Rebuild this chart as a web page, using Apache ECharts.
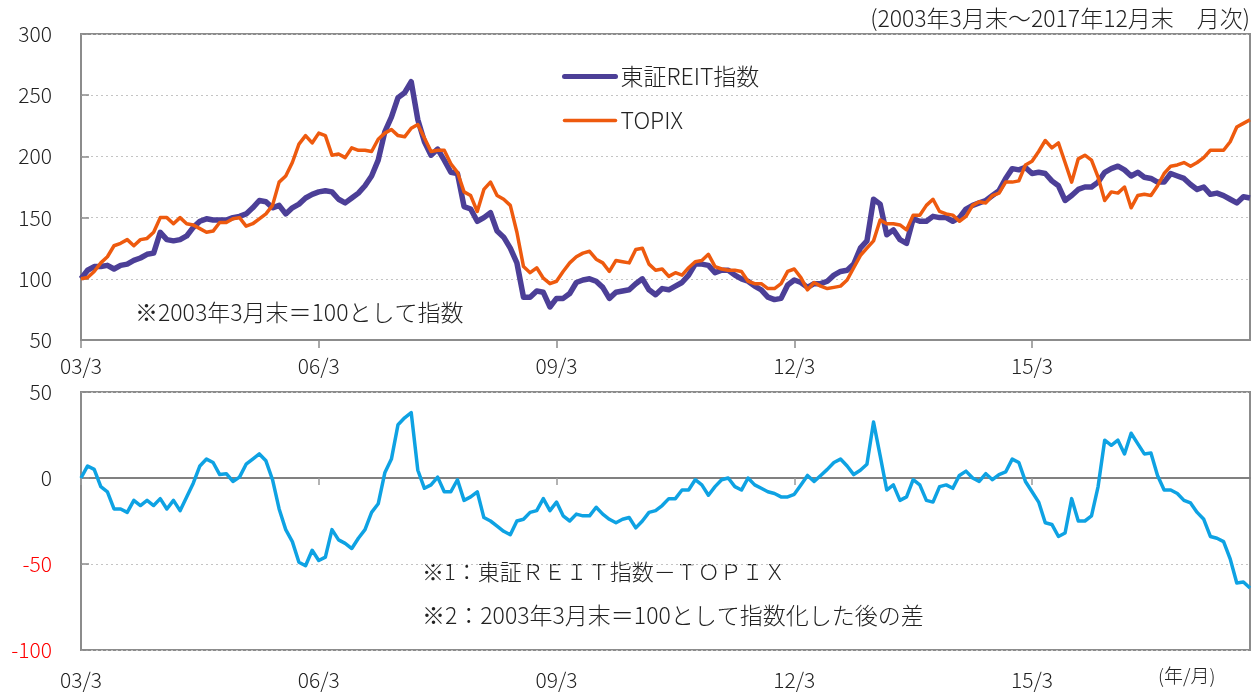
<!DOCTYPE html>
<html>
<head>
<meta charset="utf-8">
<script src="https://cdn.jsdelivr.net/npm/echarts@6/dist/echarts.min.js"></script>
<style>
html,body{margin:0;padding:0;background:#fff;}
#chart{width:1256px;height:693px;}
</style>
</head>
<body>
<div id="chart"></div>
<script>
// Month categories 2003/3 .. 2017/12 (labels "YY/M")
var categories = [];
for (var y = 2003; y <= 2017; y++) {
  for (var m = (y === 2003 ? 3 : 1); m <= 12; m++) {
    categories.push(String(y).slice(2) + '/' + m);
  }
}
var tickLabels = ['03/3', '06/3', '09/3', '12/3', '15/3'];
var topTicks = [50, 100, 150, 200, 250, 300];
var bottomTicks = [-100, -50, 0, 50];

var reitValues = [
  100,107,110,110,111,108,111,112,115,117,
  120,121,138,132,131,132,135,142,147,149,
  148,148,148,150,151,153,158,164,163,158,
  160,153,158,161,166,169,171,172,171,165,
  162,166,170,176,184,197,220,232,248,252,
  261,230,212,201,206,197,187,186,159,157,
  147,150,154,139,134,125,113,85,85,90,
  89,77,84,84,88,97,99,100,98,93,
  84,89,90,91,96,100,91,87,92,91,
  94,97,103,112,112,111,105,107,107,103,
  100,98,94,91,85,83,84,95,99,97,
  93,96,96,98,103,106,107,112,125,131,
  165,161,136,140,132,129,149,147,147,151,
  150,150,147,150,157,160,162,164,168,172,
  182,190,189,191,186,187,186,180,176,164,
  168,173,175,175,179,187,190,192,189,184,
  187,183,182,179,179,186,184,182,177,173,
  175,169,170,168,165,162,167,166
];

var topixValues = [
  100,101,106,113,118,127,129,132,127,132,
  133,138,150,150,145,150,145,144,141,138,
  139,146,146,149,150,143,145,149,153,160,
  179,184,195,210,217,211,219,217,201,202,
  199,207,205,205,204,214,219,222,217,216,
  223,226,215,204,205,205,194,187,171,168,
  155,173,179,168,165,160,138,110,105,109,
  100.5,96,98,106,113,118,121,122.5,116,113,
  106,115,114,113,124,125,112,107,108,102,
  105,103,109,114,115,120,110,108,107,107,
  106,98,96,96,92,92,96,106,108,101,
  91,97,94,92,93,94,99,109,119,125,
  131,148,145,145,144,140,152,152,160,165,
  155,153,152,147,151,160,163,162,168,170,
  179,179,180,193,196,204,213,207,211,195,
  179,198,201,197,183,164,171,170,175,158,
  168,169,168,176,186,192,193,195,192,195,
  199,205,205,205,212,224,227,230
];

var diffValues = [
  0,7,5,-5,-8,-18,-18,-20,-13,-16,
  -13,-16,-12,-18,-13,-19,-11,-3,7,11,
  9,2,2.5,-2,0.5,8,11,14,10,-1,
  -18,-30,-37,-49,-51,-42,-48,-46,-30,-36,
  -38,-41,-35,-30,-20,-15,3,11,31,35,
  38,4.5,-6,-4,0.5,-8,-8,-1,-13,-11,
  -8,-23,-25,-28,-31,-33,-25,-24,-20,-19,
  -12,-19,-14,-22,-25,-21,-22,-22,-17,-21,
  -24,-26,-24,-23,-29,-25,-20,-19,-16,-12,
  -12,-7,-7,-1,-4,-10,-5,-1,0,-5,
  -7,0,-4,-6,-8,-9,-11,-11,-9.5,-4,
  1.5,-2,1.5,5,9,11,7,2,4.5,8,
  32.5,13,-7,-4,-13,-11,-1,-4,-13,-14,
  -5,-4,-6,1.5,4,0,-2,2.5,-1,2,
  3.5,11,9,-2,-8,-14,-26,-27,-34,-32,
  -12,-25,-25,-22,-5,22,19,22,14,26,
  20,14,14.5,1.5,-7,-7,-9,-13,-14.5,-20,
  -24,-34,-35,-37,-47,-61,-60.5,-64
];

var FONT = '"Noto Sans CJK JP", "Noto Sans", sans-serif';
var FW = 300;
var TXT = '#222222';
var BORDER = '#8c8c8c';

function isTick(idx, val) { return tickLabels.indexOf(categories[idx]) >= 0; }

var chart = echarts.init(document.getElementById('chart'), null, {renderer: 'canvas'});

var option = {
  backgroundColor: '#ffffff',
  animation: false,
  textStyle: {fontFamily: FONT, fontWeight: FW},
  grid: [
    {left: 81, top: 34, width: 1169, height: 306, show: true, borderColor: BORDER, borderWidth: 2, backgroundColor: 'transparent'},
    {left: 81, top: 392, width: 1169, height: 258, show: true, borderColor: BORDER, borderWidth: 2, backgroundColor: 'transparent'}
  ],
  legend: {
    orient: 'vertical',
    left: 557,
    top: 60,
    itemWidth: 51,
    itemHeight: 14,
    itemGap: 21,
    textStyle: {fontSize: 23, color: TXT, fontFamily: FONT, fontWeight: FW},
    itemStyle: {opacity: 0},
    data: [
      {name: '東証REIT指数', lineStyle: {width: 5, cap: 'round'}},
      {name: 'TOPIX', lineStyle: {width: 3.5, cap: 'round'}}
    ]
  },
  xAxis: [
    {
      type: 'category', gridIndex: 0, data: categories, boundaryGap: false,
      axisLine: {show: true, onZero: false, lineStyle: {color: BORDER, width: 2}},
      axisTick: {show: true, interval: isTick, length: 8, lineStyle: {color: BORDER, width: 1.5}},
      axisLabel: {interval: isTick, fontSize: 21, color: TXT, margin: 16, fontFamily: FONT, fontWeight: FW},
      splitLine: {show: false}
    },
    {
      type: 'category', gridIndex: 1, data: categories, boundaryGap: false,
      axisLine: {show: false, onZero: false},
      axisTick: {show: false},
      axisLabel: {interval: isTick, fontSize: 21, color: TXT, margin: 20, fontFamily: FONT, fontWeight: FW},
      splitLine: {show: false}
    },
    {
      type: 'category', gridIndex: 1, data: categories, boundaryGap: false, position: 'bottom',
      axisLine: {show: true, onZero: true, onZeroAxisIndex: 1, lineStyle: {color: '#808080', width: 2}},
      axisTick: {show: true, interval: isTick, length: 7, lineStyle: {color: '#9a9a9a', width: 1.5}},
      axisLabel: {show: false},
      splitLine: {show: false}
    }
  ],
  yAxis: [
    {
      type: 'value', gridIndex: 0, min: topTicks[0], max: topTicks[topTicks.length - 1], interval: 50,
      axisLine: {show: false},
      axisTick: {show: true, inside: true, length: 8, lineStyle: {color: BORDER, width: 1.5}},
      axisLabel: {fontSize: 21, color: TXT, margin: 29, fontFamily: FONT, fontWeight: FW},
      splitLine: {show: true, lineStyle: {color: '#c4c4c4', width: 1, type: [2, 3]}}
    },
    {
      type: 'value', gridIndex: 1, min: bottomTicks[0], max: bottomTicks[bottomTicks.length - 1], interval: 50,
      axisLine: {show: false},
      axisTick: {show: true, inside: true, length: 8, lineStyle: {color: BORDER, width: 1.5}},
      axisLabel: {
        fontSize: 21, margin: 29, fontFamily: FONT, fontWeight: FW,
        color: function (v) { return Number(v) < 0 ? '#ff0000' : TXT; }
      },
      splitLine: {show: true, lineStyle: {color: '#c4c4c4', width: 1, type: [2, 3]}}
    }
  ],
  series: [
    {
      name: 'TOPIX', type: 'line', xAxisIndex: 0, yAxisIndex: 0, data: topixValues,
      symbol: 'none', showSymbol: false, z: 3,
      lineStyle: {color: '#ee5a0e', width: 3.5, join: 'round'},
      itemStyle: {color: '#ee5a0e'}
    },
    {
      name: '東証REIT指数', type: 'line', xAxisIndex: 0, yAxisIndex: 0, data: reitValues,
      symbol: 'none', showSymbol: false, z: 2,
      lineStyle: {color: '#4c3f97', width: 5.5, join: 'round'},
      itemStyle: {color: '#4c3f97'}
    },
    {
      name: '差', type: 'line', xAxisIndex: 1, yAxisIndex: 1, data: diffValues,
      symbol: 'none', showSymbol: false, z: 3,
      lineStyle: {color: '#0ea2e3', width: 3.5, join: 'round'},
      itemStyle: {color: '#0ea2e3'}
    }
  ],
  graphic: [
    {type: 'text', x: 1250, y: 18, style: {text: '(2003年3月末～2017年12月末\u3000月次)', fill: TXT, font: FW + ' 23px ' + FONT, textAlign: 'right', textVerticalAlign: 'middle', align: 'right', verticalAlign: 'middle'}},
    {type: 'text', x: 135, y: 312, style: {text: '※2003年3月末＝100として指数', fill: TXT, font: FW + ' 23px ' + FONT, textAlign: 'left', textVerticalAlign: 'middle', align: 'left', verticalAlign: 'middle'}},
    {type: 'text', x: 422, y: 572, style: {text: '※1：東証ＲＥＩＴ指数－ＴＯＰＩＸ', fill: TXT, font: FW + ' 22px ' + FONT, textAlign: 'left', textVerticalAlign: 'middle', align: 'left', verticalAlign: 'middle'}},
    {type: 'text', x: 422, y: 615, style: {text: '※2：2003年3月末＝100として指数化した後の差', fill: TXT, font: FW + ' 23px ' + FONT, textAlign: 'left', textVerticalAlign: 'middle', align: 'left', verticalAlign: 'middle'}},
    {type: 'text', x: 1158, y: 676, style: {text: '(年/月)', fill: TXT, font: FW + ' 19px ' + FONT, textAlign: 'left', textVerticalAlign: 'middle', align: 'left', verticalAlign: 'middle'}}
  ]
};
chart.setOption(option);
</script>
</body>
</html>
